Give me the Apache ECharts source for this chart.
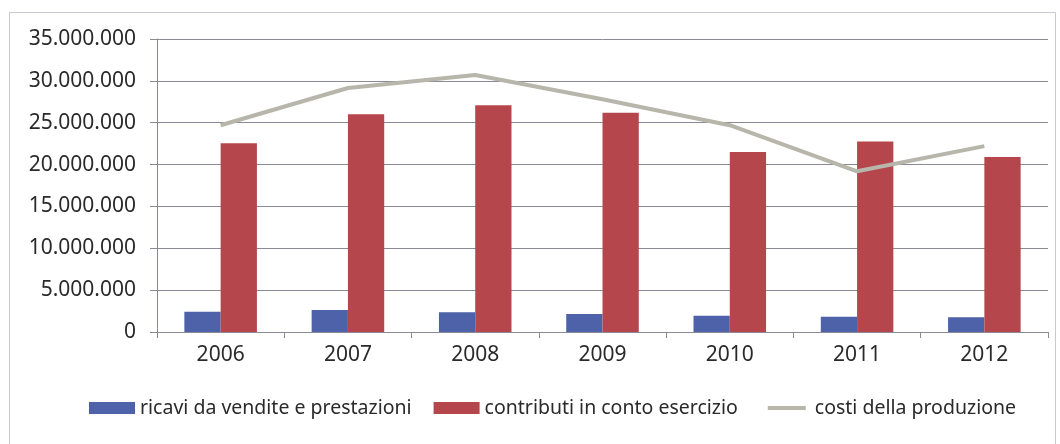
<!DOCTYPE html>
<html>
<head>
<meta charset="utf-8">
<script src="https://cdn.jsdelivr.net/npm/echarts@6/dist/echarts.min.js"></script>
<style>
  html, body { margin: 0; padding: 0; background: #fff; }
  #main { width: 1060px; height: 444px; }
</style>
</head>
<body>
<div id="main"></div>
<script>
// anni
const years = ['2006', '2007', '2008', '2009', '2010', '2011', '2012']
// valori
const ricavi = [2420000, 2620000, 2350000, 2150000, 1950000, 1830000, 1750000]
const contributi = [22550000, 26000000, 27100000, 26200000, 21500000, 22750000, 20900000]
const costi = [24700000, 29150000, 30700000, 27800000, 24700000, 19200000, 22200000]
const seriesNames = ['ricavi da vendite e prestazioni', 'contributi in conto esercizio', 'costi della produzione']

const font = 'Noto Sans'

// 35000000 -> 35.000.000
function fmt (v) {
  return String(v).replace(/\B(?=(\d{3})+(?!\d))/g, '.')
}

let chart = echarts.init(document.getElementById('main'))
chart.setOption({
  backgroundColor: '#fff',
  animation: false,
  graphic: [{
    type: 'rect',
    shape: { x: 9.5, y: 12.5, width: 1046, height: 440 },
    style: { fill: 'none', stroke: '#c9c9d6', lineWidth: 1 },
    silent: true
  }],
  grid: {
    left: 157,
    right: 12,
    top: 39,
    bottom: 112
  },
  legend: {
    bottom: 21,
    left: 84,
    itemWidth: 46,
    itemHeight: 12,
    itemGap: 22,
    textStyle: {
      fontFamily: font,
      fontSize: 19.5,
      color: '#2a2a2a'
    },
    data: [
      { name: seriesNames[0], icon: 'rect' },
      { name: seriesNames[1], icon: 'rect' },
      // linea sottile: rettangolo con bordo bianco
      { name: seriesNames[2], icon: 'rect', itemStyle: { color: '#b8b5ab', borderColor: '#fff', borderWidth: 8 } }
    ]
  },
  xAxis: {
    type: 'category',
    data: years,
    axisLine: { lineStyle: { color: '#8a8a96', width: 1 } },
    axisTick: { show: true, length: 6, lineStyle: { color: '#8a8a96' } },
    axisLabel: {
      fontFamily: font,
      fontSize: 21,
      color: '#2a2a2a',
      margin: 13
    }
  },
  yAxis: {
    type: 'value',
    min: 0,
    max: 35000000,
    interval: 5000000,
    axisLine: { show: true, lineStyle: { color: '#8a8a96', width: 1 } },
    axisTick: { show: true, length: 7, lineStyle: { color: '#8a8a96' } },
    splitLine: { lineStyle: { color: '#8a8a96', width: 1 } },
    axisLabel: {
      fontFamily: font,
      fontSize: 21,
      color: '#2a2a2a',
      margin: 21,
      formatter: fmt
    }
  },
  series: [
    {
      name: seriesNames[0],
      type: 'bar',
      data: ricavi,
      barGap: '0%',
      barCategoryGap: '43%',
      itemStyle: { color: '#4d62a8' }
    },
    {
      name: seriesNames[1],
      type: 'bar',
      data: contributi,
      barGap: '0%',
      barCategoryGap: '43%',
      itemStyle: { color: '#b5474c' }
    },
    {
      name: seriesNames[2],
      type: 'line',
      data: costi,
      showSymbol: false,
      symbol: 'none',
      lineStyle: { color: '#b8b5ab', width: 4 },
      itemStyle: { color: '#b8b5ab' }
    }
  ]
})
</script>
</body>
</html>
